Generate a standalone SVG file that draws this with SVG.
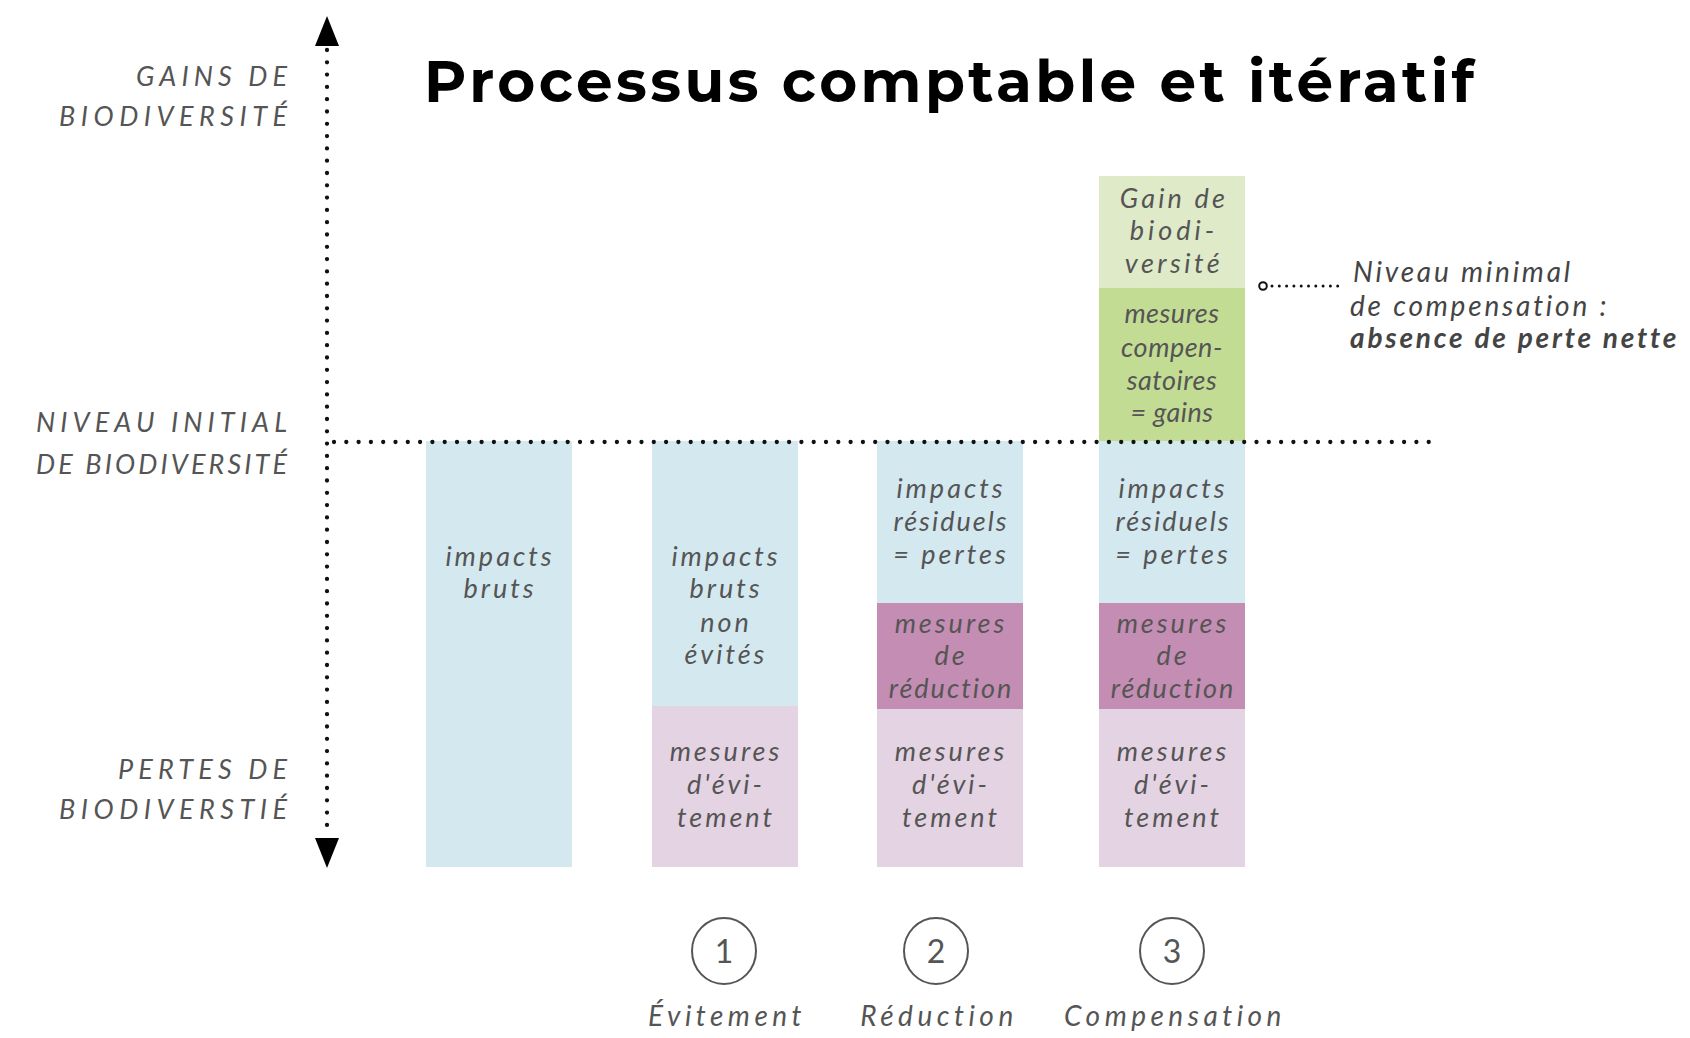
<svg xmlns="http://www.w3.org/2000/svg" width="1690" height="1038" viewBox="0 0 1690 1038">
<style>
.lab{font-family:Lato,"Open Sans",sans-serif;font-style:italic;fill:#555;font-size:27px}
.bt{font-family:Lato,"Open Sans",sans-serif;font-style:italic;fill:#555;font-size:27px;letter-spacing:3px;text-anchor:middle}
.bt2{font-family:Lato,"Open Sans",sans-serif;font-style:italic;fill:#555;font-size:27px;letter-spacing:2px;text-anchor:middle}
.ann{font-family:Lato,"Open Sans",sans-serif;font-style:italic;fill:#444;font-size:28px;letter-spacing:2.8px}
.num{font-family:Lato,"Open Sans",sans-serif;fill:#555;font-size:32px;text-anchor:middle}
.step{font-family:Lato,"Open Sans",sans-serif;font-style:italic;fill:#555;font-size:28px;letter-spacing:4.5px;text-anchor:middle}
.dot{fill:none;stroke:#111;stroke-width:4.3;stroke-linecap:round;stroke-dasharray:0 12.3}
.blue{fill:#d4e8f0}.lpink{fill:#e4d3e3}.purple{fill:#c48db3}.lgreen{fill:#dfeac8}.green{fill:#c3dc94}
.circ{fill:none;stroke:#555;stroke-width:2}
</style>
<rect width="1690" height="1038" fill="#fff"/>
<text x="424" y="102" font-family="Montserrat,'Open Sans',sans-serif" font-weight="700" font-size="58" fill="#000" textLength="1050" lengthAdjust="spacing">Processus comptable et itératif</text>

<g id="axis-labels">
<text class="lab" x="136" y="86" textLength="151" lengthAdjust="spacing">GAINS DE</text>
<text class="lab" x="59" y="126" textLength="228" lengthAdjust="spacing">BIODIVERSITÉ</text>
<text class="lab" x="36" y="432" textLength="251" lengthAdjust="spacing">NIVEAU INITIAL</text>
<text class="lab" x="36" y="474" textLength="251" lengthAdjust="spacing">DE BIODIVERSITÉ</text>
<text class="lab" x="118" y="779" textLength="169" lengthAdjust="spacing">PERTES DE</text>
<text class="lab" x="59" y="819" textLength="228" lengthAdjust="spacing">BIODIVERSTIÉ</text>
</g>

<g id="col1">
<rect class="blue" x="426" y="441" width="146" height="426"/>
<text class="bt" x="500" y="566">impacts</text>
<text class="bt" x="500" y="598">bruts</text>
</g>

<g id="col2">
<rect class="blue" x="652" y="441" width="146" height="265"/>
<rect class="lpink" x="652" y="706" width="146" height="161"/>
<text class="bt" x="726" y="566">impacts</text>
<text class="bt" x="726" y="598">bruts</text>
<text class="bt" x="726" y="632">non</text>
<text class="bt" x="726" y="664">évités</text>
<text class="bt" x="726" y="761">mesures</text>
<text class="bt" x="726" y="794">d'évi-</text>
<text class="bt" x="726" y="827">tement</text>
</g>

<g id="col3">
<rect class="blue" x="877" y="441" width="146" height="162"/>
<rect class="purple" x="877" y="603" width="146" height="106"/>
<rect class="lpink" x="877" y="709" width="146" height="158"/>
<text class="bt" x="951" y="498">impacts</text>
<text class="bt2" x="951" y="531">résiduels</text>
<text class="bt" x="951" y="564">= pertes</text>
<text class="bt" x="951" y="633">mesures</text>
<text class="bt" x="951" y="665">de</text>
<text class="bt2" x="951" y="698">réduction</text>
<text class="bt" x="951" y="761">mesures</text>
<text class="bt" x="951" y="794">d'évi-</text>
<text class="bt" x="951" y="827">tement</text>
</g>

<g id="col4">
<rect class="lgreen" x="1099" y="176" width="146" height="112"/>
<rect class="green" x="1099" y="288" width="146" height="153"/>
<rect class="blue" x="1099" y="441" width="146" height="162"/>
<rect class="purple" x="1099" y="603" width="146" height="106"/>
<rect class="lpink" x="1099" y="709" width="146" height="158"/>
<text class="bt2" x="1174" y="208" style="letter-spacing:3.2px">Gain de</text>
<text class="bt2" x="1174" y="240" style="letter-spacing:4px">biodi-</text>
<text class="bt2" x="1174" y="273" style="letter-spacing:3.5px">versité</text>
<text class="bt2" x="1172" y="323" style="letter-spacing:0.5px">mesures</text>
<text class="bt2" x="1172" y="357" style="letter-spacing:0.5px">compen-</text>
<text class="bt2" x="1172" y="390" style="letter-spacing:0.5px">satoires</text>
<text class="bt2" x="1172" y="422" style="letter-spacing:0.5px">= gains</text>
<text class="bt" x="1173" y="498">impacts</text>
<text class="bt2" x="1173" y="531">résiduels</text>
<text class="bt" x="1173" y="564">= pertes</text>
<text class="bt" x="1173" y="633">mesures</text>
<text class="bt" x="1173" y="665">de</text>
<text class="bt2" x="1173" y="698">réduction</text>
<text class="bt" x="1173" y="761">mesures</text>
<text class="bt" x="1173" y="794">d'évi-</text>
<text class="bt" x="1173" y="827">tement</text>
</g>

<g id="connectors">
<line class="dot" x1="327" y1="50" x2="327" y2="834"/>
<polygon points="327,16 315,46 339,46" fill="#000"/>
<polygon points="327,868 315,838 339,838" fill="#000"/>
<line class="dot" x1="334" y1="442" x2="1432" y2="442"/>
<circle cx="1263" cy="286" r="3.8" fill="#fff" stroke="#111" stroke-width="2"/>
<line class="dot" x1="1272" y1="286" x2="1338" y2="286" style="stroke-width:3;stroke-dasharray:0 7.3"/>
</g>

<g id="annotation">
<text class="ann" x="1353" y="282">Niveau minimal</text>
<text class="ann" x="1350" y="316">de compensation :</text>
<text class="ann" x="1350" y="348" font-weight="700" fill="#333">absence de perte nette</text>
</g>

<g id="step1">
<ellipse class="circ" cx="724" cy="951" rx="32" ry="33"/>
<text class="num" x="724" y="963">1</text>
<text class="step" x="727" y="1026">Évitement</text>
</g>
<g id="step2">
<ellipse class="circ" cx="936" cy="951" rx="32" ry="33"/>
<text class="num" x="936" y="963">2</text>
<text class="step" x="939" y="1026">Réduction</text>
</g>
<g id="step3">
<ellipse class="circ" cx="1172" cy="951" rx="32" ry="33"/>
<text class="num" x="1172" y="963">3</text>
<text class="step" x="1175" y="1026">Compensation</text>
</g>
</svg>
